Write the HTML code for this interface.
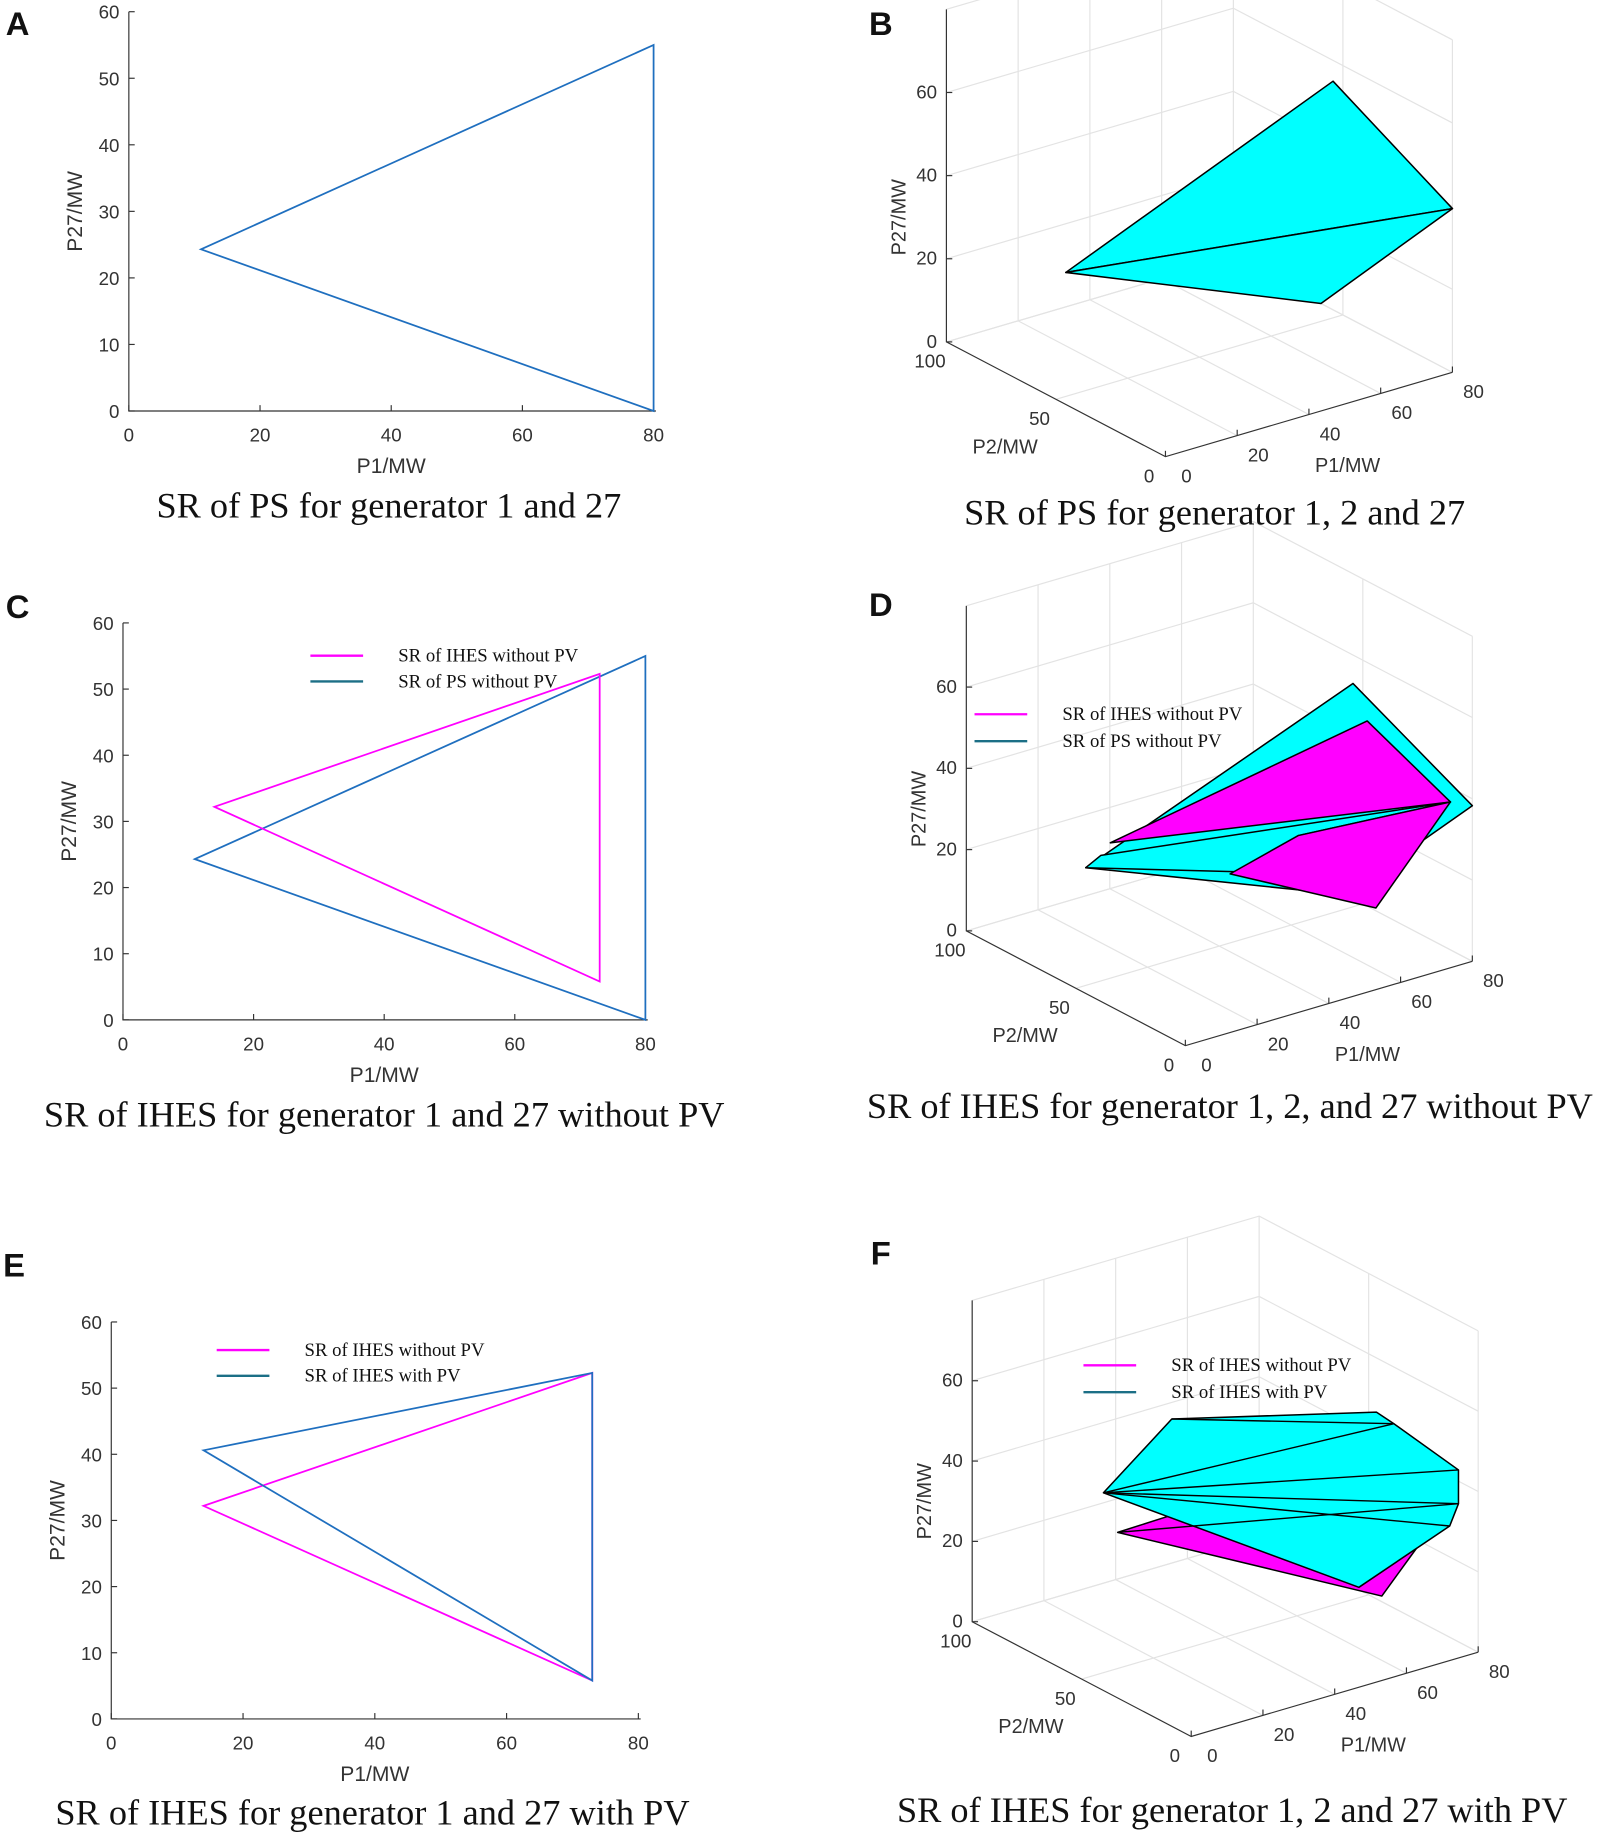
<!DOCTYPE html>
<html><head><meta charset="utf-8"><style>
html,body{margin:0;padding:0;background:#fff;}
svg{display:block}
text{font-family:"Liberation Sans",sans-serif;}
.tk{font-size:16px;fill:#333}
.ttl{font-family:"Liberation Serif",serif;font-size:31px;fill:#111}
.lg{font-family:"Liberation Serif",serif;font-size:16px;fill:#111}
.let{font-size:28px;font-weight:bold;fill:#111}
</style></head><body>
<svg id="fig" width="1600" height="1836" viewBox="0 0 1366 1568" preserveAspectRatio="none" xmlns="http://www.w3.org/2000/svg"></svg>
<script>
// ---- data ----
const xTicks2D = [0,20,40,60,80];
const yTicks2D = [0,10,20,30,40,50,60];
const psTriangle = [[11,24.3],[80,55],[80,0]];
const ihesNoPV = [[14,32.2],[73,52.3],[73,5.8]];
const ihesPV = [[14,40.6],[73,52.3],[73,5.8]];
const zTicks3D = [0,20,40,60];
const p1Ticks3D = [0,20,40,60,80];
const p2Ticks3D = [0,50,100];
// 3D polygons [p1,p2,z]
const bFace1 = [[11,63.5,24],[80,54.5,55],[80,0,39.4]];
const bFace2 = [[11,63.5,24],[80,0,39.4],[80,60,0]];
const dPsBack = [[11,63.5,23],[80,54.5,53],[80,0,38.3],[80,58,0]];
const dIhesTop = [[9.6,50,33.3],[80,48,45.6],[80,10,36.4]];
const dPsStrip = [[7,50,30.9],[80,10,36.4],[62,50,21.5],[62,50,12.2],[11,63.5,23]];
const dIhesLow = [[62,50,21.5],[80,10,36.4],[80,44,0.7],[43,50,17]];
const fIhesNoPV = [[14,56.5,31],[28,55,32],[80,28,18],[80,44,1.4]];
const fIhesPV = [[14,63,39],[30,58,54.6],[73,35,51.6],[73,27,51],[80,9,42.8],[80,9,34.4],[80,13,27.7],[73,43,5.7]];
const fEdges = [[[14,63,39],[73,27,51]],[[14,63,39],[80,9,42.8]],[[14,63,39],[80,9,34.4]],[[14,63,39],[80,13,27.7]],[[30,58,54.6],[73,27,51]],[[14,56.5,31],[80,9,34.4]]];

const NS="http://www.w3.org/2000/svg";
const svg=document.getElementById('fig');
function mk(tag,attrs,parent,txt){const e=document.createElementNS(NS,tag);for(const k in attrs)e.setAttribute(k,attrs[k]);if(txt!==undefined)e.textContent=txt;(parent||svg).appendChild(e);return e;}

function text(x,y,s,cls,name,anchor,parent,extra){
 const t=mk('text',Object.assign({x:x,y:y,class:cls,'text-anchor':anchor||'middle'},extra||{}),parent,s);
 
 
 return t;}

function panel2D(id,ox,oy,x80,y60,series,legend){
 const g=mk('g',{});
 
 
 const sx=v=>ox+(x80-ox)*v/80, sy=v=>oy-(oy-y60)*v/60;
 const ax=mk('path',{d:`M${ox},${y60}V${oy}H${x80+2}`,stroke:'#333',fill:'none','stroke-width':1},g);
 
 
 xTicks2D.forEach(v=>{mk('line',{x1:sx(v),x2:sx(v),y1:oy,y2:oy-5,stroke:'#333'},g);text(sx(v),oy+26,v,'tk','x-tick-label','middle',g);});
 yTicks2D.forEach(v=>{mk('line',{x1:ox,x2:ox+5,y1:sy(v),y2:sy(v),stroke:'#333'},g);text(ox-8,sy(v)+6,v,'tk','y-tick-label','end',g);});
 text((ox+x80)/2,oy+53,'P1/MW','tk','x-axis-title','middle',g,{style:'font-size:18px'});
 text(ox-40,(oy+y60)/2,'P27/MW','tk','y-axis-title','middle',g,{style:'font-size:18px',transform:`rotate(-90 ${ox-40} ${(oy+y60)/2})`});
 series.forEach(s=>{
  const p=mk('polygon',{points:s.d.map(q=>sx(q[0])+','+sy(q[1])).join(' '),fill:'none',stroke:s.c,'stroke-width':1.5},g);
  
  
 });
 if(legend){legend.items.forEach((it,i)=>{
  const l=mk('line',{x1:legend.x,x2:legend.x+45,y1:legend.y+i*22,y2:legend.y+i*22,stroke:it.c,'stroke-width':2},g);
  
  
  text(legend.x+75,legend.y+i*22+5,it.t,'lg','legend-entry','start',g);
 });}
}

function panel3D(id,dx,dy,zs,polys,edges,legend){
 const g=mk('g',{});
 
 
 const P=(p1,p2,z)=>[995+dx+3.0625*p1-1.87*p2, 390+dy-0.9*p1-0.98*p2-zs*z];
 const pt=a=>{const q=P(a[0],a[1],a[2]);return q[0]+','+q[1];};
 const grid='#e3e3e3';
 [0,20,40,60,80].forEach(v=>{mk('line',{x1:P(v,100,0)[0],y1:P(v,100,0)[1],x2:P(v,100,80)[0],y2:P(v,100,80)[1],stroke:grid},g);});
 [0,50].forEach(v=>{mk('line',{x1:P(80,v,0)[0],y1:P(80,v,0)[1],x2:P(80,v,80)[0],y2:P(80,v,80)[1],stroke:grid},g);});
 zTicks3D.concat([80]).forEach(v=>{mk('polyline',{points:[pt([0,100,v]),pt([80,100,v]),pt([80,0,v])].join(' '),fill:'none',stroke:grid},g);});
 [20,40,60,80].forEach(v=>mk('line',{x1:P(v,0,0)[0],y1:P(v,0,0)[1],x2:P(v,100,0)[0],y2:P(v,100,0)[1],stroke:grid},g));
 [50,100].forEach(v=>mk('line',{x1:P(0,v,0)[0],y1:P(0,v,0)[1],x2:P(80,v,0)[0],y2:P(80,v,0)[1],stroke:grid},g));
 const ax=mk('polyline',{points:[pt([0,100,80]),pt([0,100,0]),pt([0,0,0]),pt([80,0,0])].join(' '),fill:'none',stroke:'#333'},g);
 
 
 zTicks3D.forEach(v=>{const q=P(0,100,v);mk('line',{x1:q[0],x2:q[0]+5,y1:q[1],y2:q[1],stroke:'#333'},g);text(q[0]-8,q[1]+5,v,'tk','z-tick-label','end',g);});
 p2Ticks3D.forEach(v=>{const q=P(0,v,0);text(q[0]-14,q[1]+22,v,'tk','p2-tick-label','middle',g);});
 p1Ticks3D.forEach(v=>{const q=P(v,0,0);mk('line',{x1:q[0],x2:q[0],y1:q[1],y2:q[1]-5,stroke:'#333'},g);text(q[0]+18,q[1]+22,v,'tk','p1-tick-label','middle',g);});
 let q=P(0,55,0);text(q[0]-34,q[1]+51,'P2/MW','tk','p2-axis-title','middle',g,{style:'font-size:17px'});
 q=P(40,0,0);text(q[0]+33,q[1]+49,'P1/MW','tk','p1-axis-title','middle',g,{style:'font-size:17px'});
 q=P(0,100,30);text(q[0]-35,q[1],'P27/MW','tk','z-axis-title','middle',g,{style:'font-size:17px',transform:`rotate(-90 ${q[0]-35} ${q[1]})`});
 polys.forEach(s=>{
  const p=mk('polygon',{points:s.d.map(pt).join(' '),fill:s.c,stroke:'#000','stroke-width':1.3,'stroke-linejoin':'round'},g);
  
  
 });
 (edges||[]).forEach(e=>{const l=mk('line',{x1:P(...e[0])[0],y1:P(...e[0])[1],x2:P(...e[1])[0],y2:P(...e[1])[1],stroke:'#000','stroke-width':1.2},g);
  
  });
 if(legend){legend.items.forEach((it,i)=>{
  const l=mk('line',{x1:legend.x,x2:legend.x+45,y1:legend.y+i*23,y2:legend.y+i*23,stroke:it.c,'stroke-width':2},g);
  
  
  text(legend.x+75,legend.y+i*23+5,it.t,'lg','legend-entry','start',g);
 });}
}

const MAG='#ff00ff', BLU='#1f6fbf', CY='#00ffff', TEAL='#1c6f86';
panel2D('panel-a',110,351,558,10,[{d:psTriangle,c:BLU,n:'ps-triangle'}]);
panel2D('panel-c',105,871,551,532,[{d:psTriangle,c:BLU,n:'ps-triangle'},{d:ihesNoPV,c:MAG,n:'ihes-triangle'}],
 {x:265,y:560,items:[{c:MAG,t:'SR of IHES without PV'},{c:TEAL,t:'SR of PS without PV'}]});
panel2D('panel-e',95,1468,545,1129,[{d:ihesNoPV,c:MAG,n:'ihes-nopv-triangle'},{d:ihesPV,c:BLU,n:'ihes-pv-triangle'}],
 {x:185,y:1153,items:[{c:MAG,t:'SR of IHES without PV'},{c:TEAL,t:'SR of IHES with PV'}]});
panel3D('panel-b',0,0,3.55,[{d:bFace1,c:CY,n:'ps-face'},{d:bFace2,c:CY,n:'ps-face'}]);
panel3D('panel-d',17,503,3.47,[{d:dPsBack,c:CY,n:'ps-surface'},{d:dIhesTop,c:MAG,n:'ihes-surface'},{d:dPsStrip,c:CY,n:'ps-surface'},{d:dIhesLow,c:MAG,n:'ihes-surface'}],[],
 {x:832,y:610,items:[{c:MAG,t:'SR of IHES without PV'},{c:TEAL,t:'SR of PS without PV'}]});
panel3D('panel-f',22,1093,3.43,[{d:fIhesNoPV,c:MAG,n:'ihes-nopv-surface'},{d:fIhesPV,c:CY,n:'ihes-pv-surface'}],fEdges,
 {x:925,y:1166,items:[{c:MAG,t:'SR of IHES without PV'},{c:TEAL,t:'SR of IHES with PV'}]});

text(15,30,'A','let','panel-label-a','middle');
text(752,30,'B','let','panel-label-b','middle');
text(15,528,'C','let','panel-label-c','middle');
text(752,526,'D','let','panel-label-d','middle');
text(12,1090,'E','let','panel-label-e','middle');
text(752,1080,'F','let','panel-label-f','middle');
text(332,442,'SR of PS for generator 1 and 27','ttl','caption-a','middle');
text(1037,448,'SR of PS for generator 1, 2 and 27','ttl','caption-b','middle');
text(328,962,'SR of IHES for generator 1 and 27 without PV','ttl','caption-c','middle');
text(1050,955,'SR of IHES for generator 1, 2, and 27 without PV','ttl','caption-d','middle');
text(318,1558,'SR of IHES for generator 1 and 27 with PV','ttl','caption-e','middle');
text(1052,1556,'SR of IHES for generator 1, 2 and 27 with PV','ttl','caption-f','middle');
</script>
</body></html>
